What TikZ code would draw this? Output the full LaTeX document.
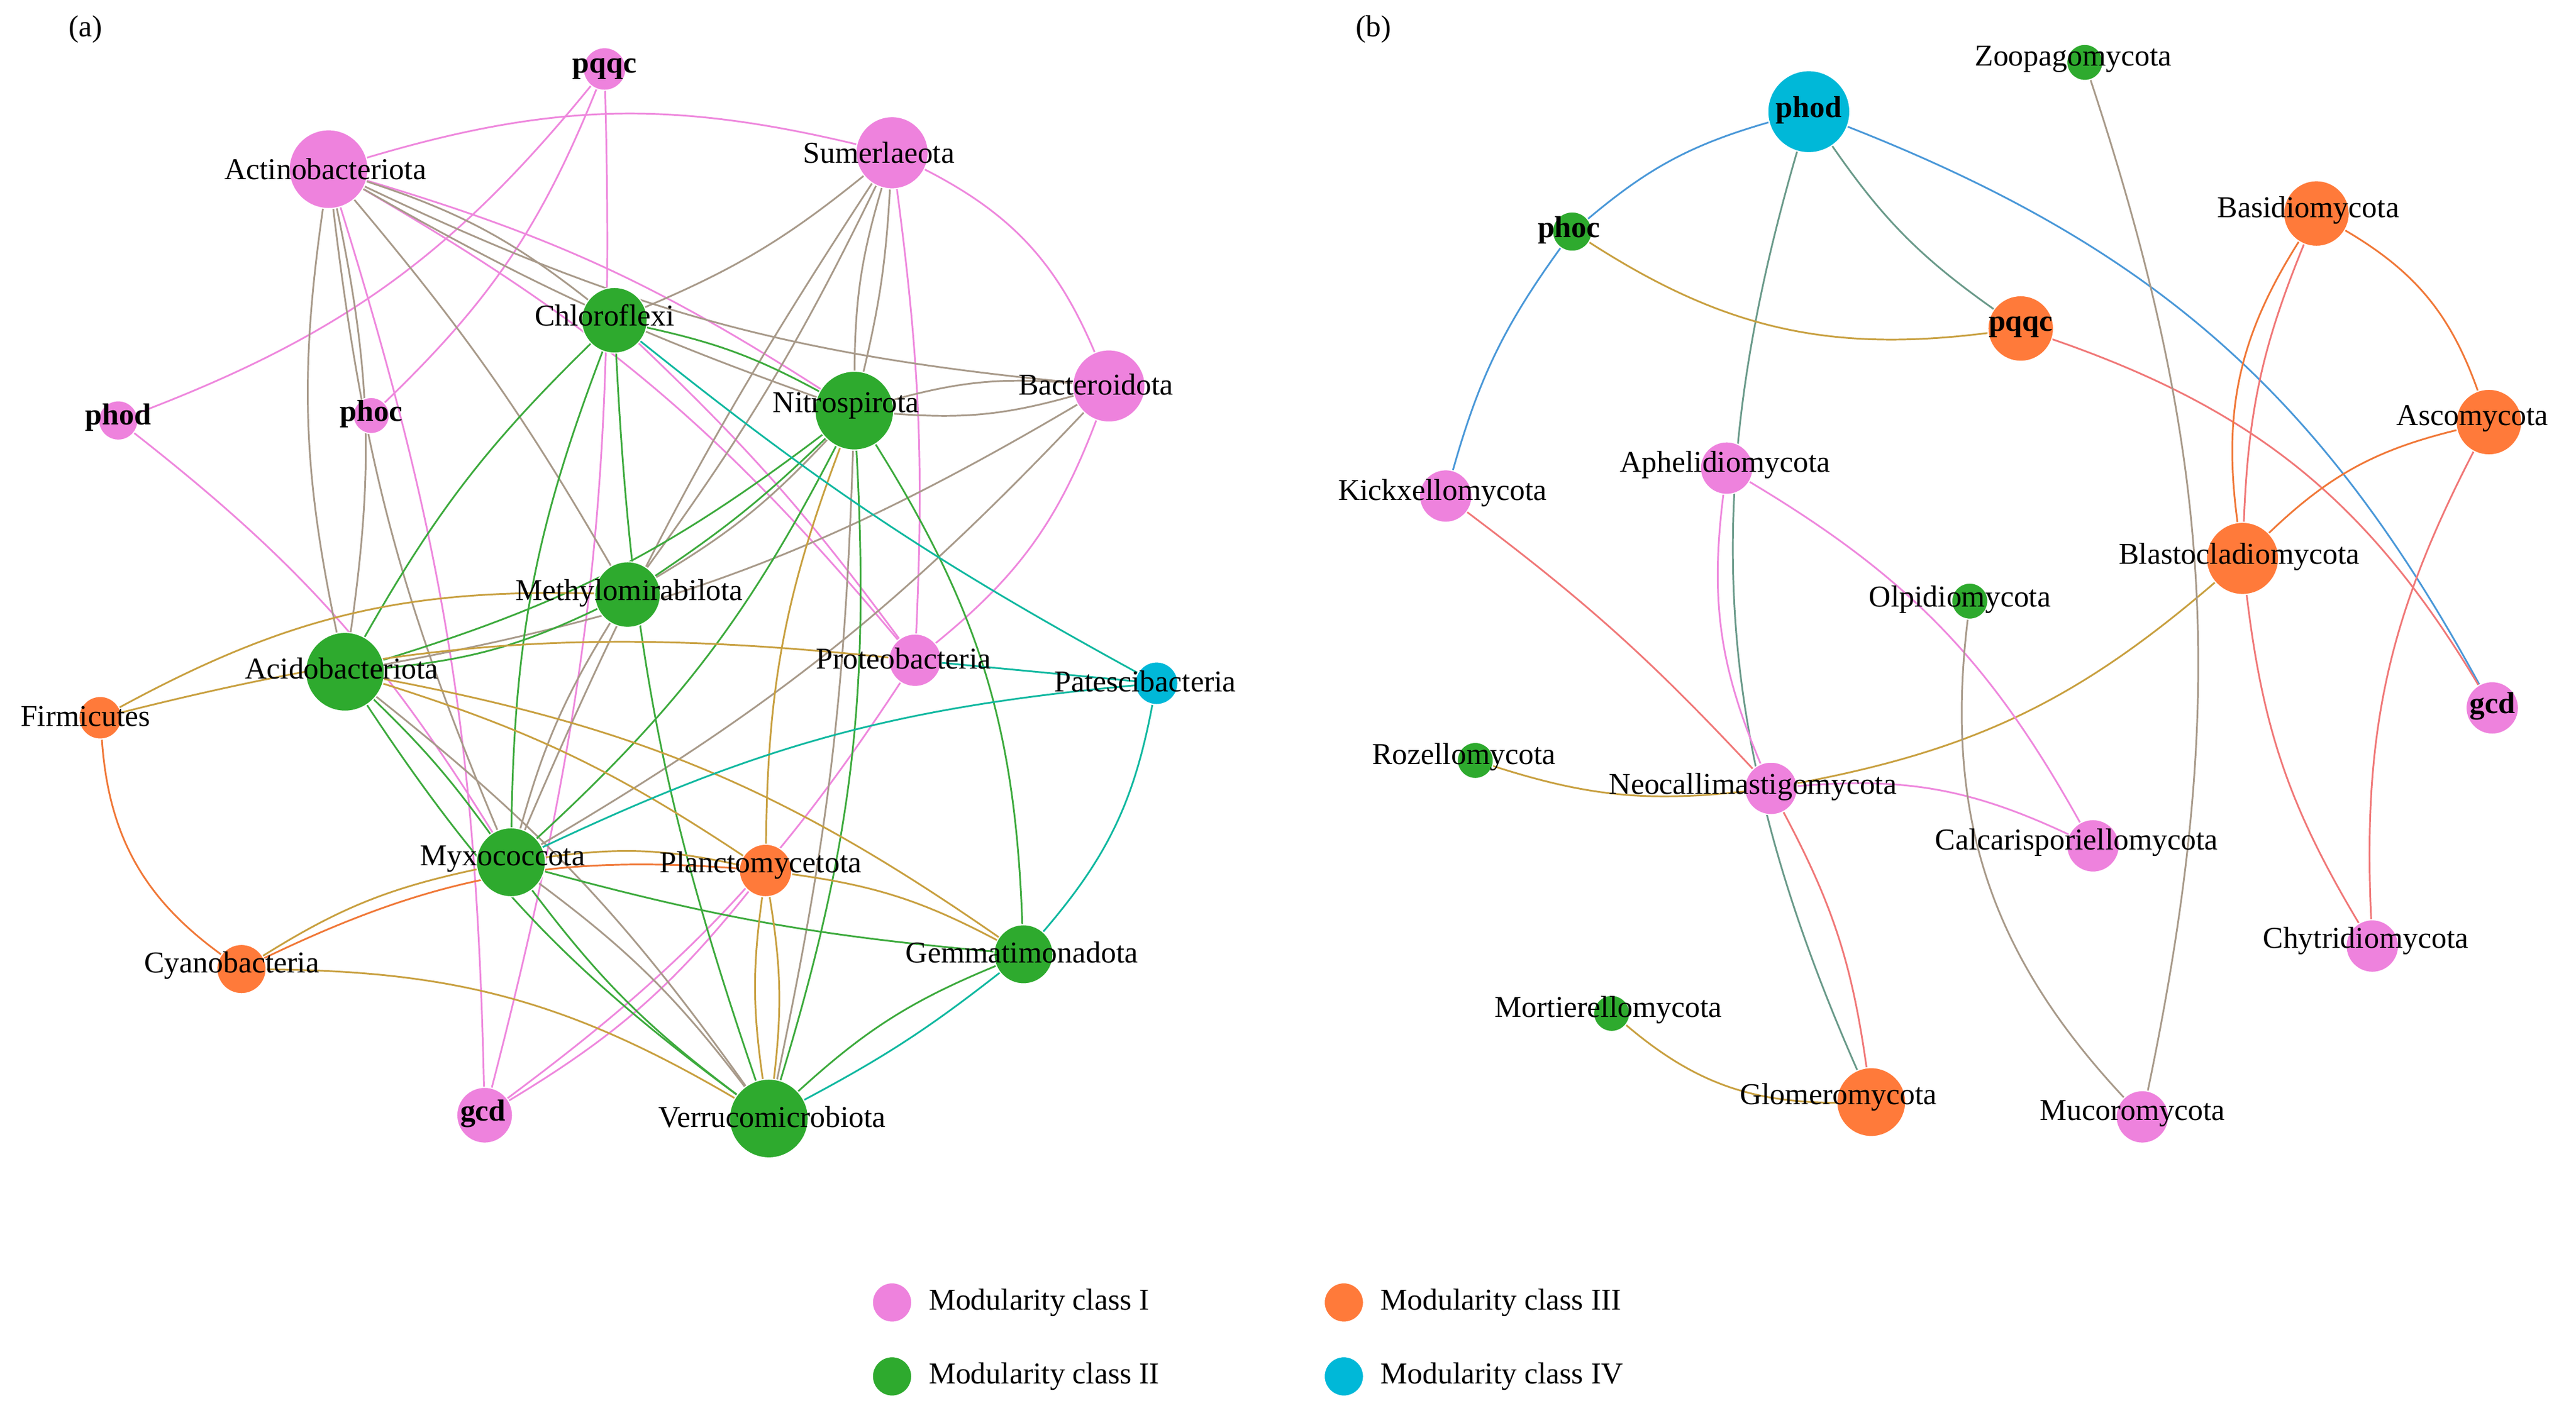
\documentclass[tikz,border=0pt]{standalone}
\usepackage{fontspec}
\setmainfont{Liberation Serif}
\pgfdeclarelayer{bg}
\pgfsetlayers{bg,main}
\definecolor{cI}{HTML}{EE82DD}
\definecolor{cII}{HTML}{2EAA2E}
\definecolor{cIII}{HTML}{FF7A3A}
\definecolor{cIV}{HTML}{00B8D8}
\definecolor{ePk}{HTML}{EE88DD}
\definecolor{eBr}{HTML}{A89A8A}
\definecolor{eGr}{HTML}{3DAA3D}
\definecolor{eGo}{HTML}{C8A040}
\definecolor{eTe}{HTML}{10B8A0}
\definecolor{eBl}{HTML}{4A98D8}
\definecolor{eSa}{HTML}{F07878}
\definecolor{eOr}{HTML}{F07838}
\definecolor{eGt}{HTML}{6A9A8A}
\tikzset{
 nd/.style={circle,draw=white,line width=0.4pt,inner sep=0pt},
 lb/.style={font=\fontsize{10.5}{12}\selectfont,inner sep=0pt},
 bl/.style={font=\fontsize{10.5}{12}\selectfont\bfseries,inner sep=0pt},
 ed/.style={line width=0.6pt},
}
\newcommand{\nd}[5]{\node[nd,fill=#5,minimum size={#4*0.04cm}] (#1) at (#2,#3) {};}
\begin{document}
\begin{tikzpicture}[x=0.02cm,y=-0.02cm]
\useasboundingbox (0,0) rectangle (1568,857);
% (a) nodes
\nd{apqqc}{368}{42}{13}{cI}
\nd{actino}{200}{103}{24}{cI}
\nd{sumer}{543}{93}{22}{cI}
\nd{chloro}{374}{195}{20}{cII}
\nd{aphod}{72}{256}{12}{cI}
\nd{aphoc}{226}{253}{11}{cI}
\nd{nitro}{520}{250}{24}{cII}
\nd{bacter}{675}{235}{22}{cI}
\nd{methyl}{382}{362}{20}{cII}
\nd{acido}{210}{409}{24}{cII}
\nd{proteo}{557}{402}{16}{cI}
\nd{pates}{704}{416}{13}{cIV}
\nd{firmi}{61}{437}{13}{cIII}
\nd{myxo}{311}{525}{21}{cII}
\nd{plancto}{466}{530}{16}{cIII}
\nd{cyano}{147}{590}{15}{cIII}
\nd{gemma}{623}{581}{18}{cII}
\nd{agcd}{295}{679}{17}{cI}
\nd{verru}{468}{681}{24}{cII}
% (b) nodes
\nd{bphod}{1101}{68}{25}{cIV}
\nd{zoo}{1269}{38}{11}{cII}
\nd{bphoc}{957}{141}{12}{cII}
\nd{basid}{1410}{130}{20}{cIII}
\nd{bpqqc}{1230}{200}{20}{cIII}
\nd{asco}{1515}{257}{20}{cIII}
\nd{aphel}{1051}{285}{16}{cI}
\nd{kick}{880}{302}{16}{cI}
\nd{blast}{1365}{340}{22}{cIII}
\nd{olpid}{1199}{366}{11}{cII}
\nd{bgcd}{1517}{431}{16}{cI}
\nd{rozel}{898}{463}{11}{cII}
\nd{neoc}{1078}{480}{16}{cI}
\nd{calca}{1274}{515}{16}{cI}
\nd{chytr}{1444}{576}{16}{cI}
\nd{morti}{981}{617}{11}{cII}
\nd{glom}{1139}{671}{21}{cIII}
\nd{mucor}{1304}{680}{16}{cI}
% labels (a)
\node[lb] at (52,18) {(a)};
\node[bl] at (368,42) {pqqc};
\node[lb] at (198,103) {Actinobacteriota};
\node[lb] at (535,93) {Sumerlaeota};
\node[lb] at (368,192) {Chloroflexi};
\node[bl] at (72,254) {phod};
\node[bl] at (226,252) {phoc};
\node[lb] at (515,247) {Nitrospirota};
\node[lb] at (667,234) {Bacteroidota};
\node[lb] at (383,361) {Methylomirabilota};
\node[lb] at (208,407) {Acidobacteriota};
\node[lb] at (550,401) {Proteobacteria};
\node[lb] at (697,415) {Patescibacteria};
\node[lb] at (52,436) {Firmicutes};
\node[lb] at (306,523) {Myxococcota};
\node[lb] at (463,527) {Planctomycetota};
\node[lb] at (141,588) {Cyanobacteria};
\node[lb] at (622,580) {Gemmatimonadota};
\node[bl] at (294,678) {gcd};
\node[lb] at (470,680) {Verrucomicrobiota};
% labels (b)
\node[lb] at (836,18) {(b)};
\node[bl] at (1101,67) {phod};
\node[lb] at (1262,36) {Zoopagomycota};
\node[bl] at (955,140) {phoc};
\node[lb] at (1405,128) {Basidiomycota};
\node[bl] at (1230,199) {pqqc};
\node[lb] at (1505,255) {Ascomycota};
\node[lb] at (1050,283) {Aphelidiomycota};
\node[lb] at (878,300) {Kickxellomycota};
\node[lb] at (1363,339) {Blastocladiomycota};
\node[lb] at (1193,365) {Olpidiomycota};
\node[bl] at (1517,430) {gcd};
\node[lb] at (891,461) {Rozellomycota};
\node[lb] at (1067,479) {Neocallimastigomycota};
\node[lb] at (1264,513) {Calcarisporiellomycota};
\node[lb] at (1440,573) {Chytridiomycota};
\node[lb] at (979,615) {Mortierellomycota};
\node[lb] at (1119,668) {Glomeromycota};
\node[lb] at (1298,678) {Mucoromycota};
% legend
\nd{l1}{543}{793}{12}{cI}
\nd{l2}{818}{793}{12}{cIII}
\nd{l3}{543}{838}{12}{cII}
\nd{l4}{818}{838}{12}{cIV}
\node[lb,anchor=west] at (565,793) {Modularity class I};
\node[lb,anchor=west] at (840,793) {Modularity class III};
\node[lb,anchor=west] at (565,838) {Modularity class II};
\node[lb,anchor=west] at (840,838) {Modularity class IV};
\begin{pgfonlayer}{bg}
% pink (a)
\draw[ed,ePk] (apqqc) to[bend left=15] (aphod);
\draw[ed,ePk] (apqqc) to[bend left=12] (aphoc);
\draw[ed,ePk] (apqqc) to[bend left=8] (agcd);
\draw[ed,ePk] (actino) to[bend left=15] (sumer);
\draw[ed,ePk] (actino) to[bend left=10] (proteo);
\draw[ed,ePk] (actino) to[bend left=8] (agcd);
\draw[ed,ePk] (actino) to[bend left=8] (nitro);
\draw[ed,ePk] (sumer) to[bend left=20] (bacter);
\draw[ed,ePk] (sumer) to[bend left=5] (proteo);
\draw[ed,ePk] (aphod) to[bend left=10] (myxo);
\draw[ed,ePk] (bacter) to[bend left=15] (proteo);
\draw[ed,ePk] (proteo) to[bend left=10] (agcd);
\draw[ed,ePk] (plancto) to[bend left=10] (agcd);
\draw[ed,ePk] (chloro) to[bend left=5] (proteo);
% brown (a)
\draw[ed,eBr] (actino) to[bend left=10] (chloro);
\draw[ed,eBr] (actino) to[bend right=5] (nitro);
\draw[ed,eBr] (actino) to[bend left=10] (acido);
\draw[ed,eBr] (actino) to[bend right=10] (acido);
\draw[ed,eBr] (actino) to[bend left=5] (methyl);
\draw[ed,eBr] (actino) to[bend right=8] (myxo);
\draw[ed,eBr] (actino) to[bend right=10] (bacter);
\draw[ed,eBr] (sumer) to[bend left=8] (chloro);
\draw[ed,eBr] (sumer) to[bend left=5] (nitro);
\draw[ed,eBr] (sumer) to[bend right=8] (nitro);
\draw[ed,eBr] (sumer) to[bend left=5] (methyl);
\draw[ed,eBr] (sumer) to[bend right=5] (myxo);
\draw[ed,eBr] (nitro) to[bend left=10] (bacter);
\draw[ed,eBr] (nitro) to[bend right=10] (bacter);
\draw[ed,eBr] (nitro) to[bend left=8] (methyl);
\draw[ed,eBr] (bacter) to[bend left=10] (acido);
\draw[ed,eBr] (bacter) to[bend left=8] (myxo);
\draw[ed,eBr] (nitro) to[bend left=5] (verru);
\draw[ed,eBr] (myxo) to[bend left=8] (verru);
\draw[ed,eBr] (methyl) to[bend right=8] (myxo);
\draw[ed,eBr] (acido) to[bend left=8] (verru);
% green (a)
\draw[ed,eGr] (chloro) to[bend left=8] (nitro);
\draw[ed,eGr] (chloro) to[bend right=8] (acido);
\draw[ed,eGr] (chloro) to[bend right=10] (myxo);
\draw[ed,eGr] (chloro) to[bend right=8] (verru);
\draw[ed,eGr] (nitro) to[bend left=5] (methyl);
\draw[ed,eGr] (nitro) to[bend left=10] (acido);
\draw[ed,eGr] (nitro) to[bend left=10] (myxo);
\draw[ed,eGr] (nitro) to[bend left=15] (gemma);
\draw[ed,eGr] (nitro) to[bend left=10] (verru);
\draw[ed,eGr] (methyl) to[bend left=10] (acido);
\draw[ed,eGr] (acido) to[bend left=5] (myxo);
\draw[ed,eGr] (acido) to[bend right=10] (verru);
\draw[ed,eGr] (myxo) to[bend right=5] (gemma);
\draw[ed,eGr] (myxo) to[bend right=8] (verru);
\draw[ed,eGr] (gemma) to[bend right=10] (verru);
% gold (a)
\draw[ed,eGo] (firmi) to[bend left=15] (methyl);
\draw[ed,eGo] (firmi) to[bend left=10] (proteo);
\draw[ed,eGo] (acido) to[bend left=12] (gemma);
\draw[ed,eGo] (cyano) to[bend left=15] (verru);
\draw[ed,eGo] (cyano) to[bend left=10] (myxo);
\draw[ed,eGo] (nitro) to[bend right=10] (plancto);
\draw[ed,eGo] (plancto) to[bend right=8] (verru);
\draw[ed,eGo] (plancto) to[bend left=10] (gemma);
\draw[ed,eGo] (myxo) to[bend left=10] (plancto);
\draw[ed,eGo] (acido) to[bend left=8] (plancto);
\draw[ed,eGo] (plancto) to[bend left=8] (verru);
% orange (a)
\draw[ed,eOr] (firmi) to[bend right=25] (cyano);
\draw[ed,eOr] (cyano) to[bend left=15] (plancto);
% teal (a)
\draw[ed,eTe] (chloro) to[bend right=5] (pates);
\draw[ed,eTe] (pates) to[bend left=15] (gemma);
\draw[ed,eTe] (pates) to[bend right=10] (myxo);
\draw[ed,eTe] (gemma) to[bend left=5] (verru);
\draw[ed,eTe] (proteo) to (pates);
% (b)
\draw[ed,eBl] (bphod) to[bend right=12] (bphoc);
\draw[ed,eBl] (bphoc) to[bend right=10] (kick);
\draw[ed,eBl] (bphod) to[bend left=20] (bgcd);
\draw[ed,eGt] (bphod) to[bend right=10] (bpqqc);
\draw[ed,eGt] (bphod) to[bend right=20] (glom);
\draw[ed,eGo] (bphoc) to[bend right=20] (bpqqc);
\draw[ed,eGo] (rozel) to[bend right=12] (neoc);
\draw[ed,eGo] (neoc) to[bend right=15] (blast);
\draw[ed,eGo] (morti) to[bend right=20] (glom);
\draw[ed,eSa] (bpqqc) to[bend left=20] (bgcd);
\draw[ed,eSa] (kick) to[bend left=5] (neoc);
\draw[ed,eSa] (neoc) to[bend left=10] (glom);
\draw[ed,eSa] (blast) to[bend right=12] (chytr);
\draw[ed,eSa] (asco) to[bend right=15] (chytr);
\draw[ed,eSa] (basid) to[bend right=10] (blast);
\draw[ed,eOr] (basid) to[bend left=20] (asco);
\draw[ed,eOr] (basid) to[bend right=20] (blast);
\draw[ed,eOr] (asco) to[bend right=15] (blast);
\draw[ed,ePk] (aphel) to[bend right=15] (neoc);
\draw[ed,ePk] (aphel) to[bend left=15] (calca);
\draw[ed,ePk] (neoc) to[bend left=15] (calca);
\draw[ed,eBr] (zoo) to[bend left=15] (mucor);
\draw[ed,eBr] (olpid) to[bend right=25] (mucor);
\end{pgfonlayer}
\end{tikzpicture}
\end{document}
